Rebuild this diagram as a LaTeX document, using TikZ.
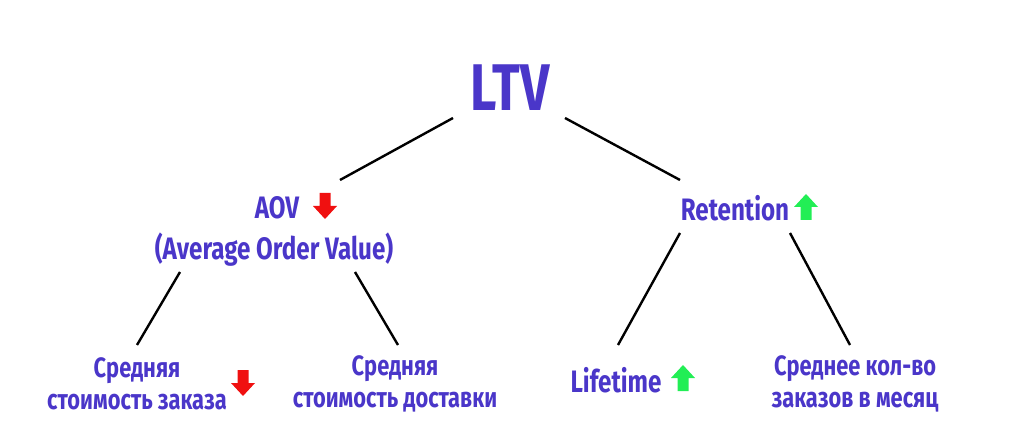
\documentclass[tikz,border=0pt]{standalone}
\usepackage{fontspec}
\setmainfont{Fira Sans}[UprightFont=* Bold, FakeStretch=0.78]
\definecolor{pur}{HTML}{4A36C9}
\definecolor{ared}{HTML}{F01010}
\definecolor{agrn}{HTML}{22EE55}
\begin{document}
\begin{tikzpicture}[x=1pt,y=-1pt,
  lab/.style={text=pur,align=center,inner sep=0pt,font=\fontsize{28}{32}\selectfont},
  big/.style={text=pur,inner sep=0pt,font=\fontsize{66}{70}\selectfont},
  mid/.style={text=pur,align=center,inner sep=0pt,font=\fontsize{31}{42}\selectfont},
  ln/.style={line width=2.4pt,black}]
\useasboundingbox (0,0) rectangle (1024,427);
\newcommand\darr[3]{\fill[#3] (#1-5.5,#2-13) -- (#1+5.5,#2-13) -- (#1+5.5,#2) -- (#1+12,#2) -- (#1,#2+13) -- (#1-12,#2) -- (#1-5.5,#2) -- cycle;}
\newcommand\uarr[3]{\fill[#3] (#1-5.5,#2+13) -- (#1+5.5,#2+13) -- (#1+5.5,#2) -- (#1+12,#2) -- (#1,#2-13) -- (#1-12,#2) -- (#1-5.5,#2) -- cycle;}
\node[big] (ltv) at (510,88) {LTV};
\node[mid] (aov) at (277,208) {AOV};
\node[mid] (aovf) at (274,250) {(Average Order Value)};
\node[mid] (ret) at (735,208) {Retention};
\node[lab] (s1) at (137,384) {Средняя\\стоимость заказа};
\node[lab] (s2) at (395,384) {Средняя\\стоимость доставки};
\node[lab,font=\fontsize{31}{32}\selectfont] (lt) at (616,380) {Lifetime};
\node[lab] (s3) at (855,384) {Среднее кол-во\\заказов в месяц};
\coordinate (a1) at (453,118); \coordinate (a2) at (340,180);
\coordinate (b1) at (565,118); \coordinate (b2) at (680,180);
\coordinate (c1) at (180,272); \coordinate (c2) at (137,345);
\coordinate (d1) at (355,272); \coordinate (d2) at (398,345);
\coordinate (e1) at (680,233); \coordinate (e2) at (618,345);
\coordinate (f1) at (790,233); \coordinate (f2) at (850,345);
\draw[ln] (a1)--(a2); \draw[ln] (b1)--(b2);
\draw[ln] (c1)--(c2); \draw[ln] (d1)--(d2);
\draw[ln] (e1)--(e2); \draw[ln] (f1)--(f2);
\darr{325}{206}{ared}
\uarr{806}{207}{agrn}
\darr{243}{383}{ared}
\uarr{683}{378}{agrn}
\end{tikzpicture}
\end{document}
